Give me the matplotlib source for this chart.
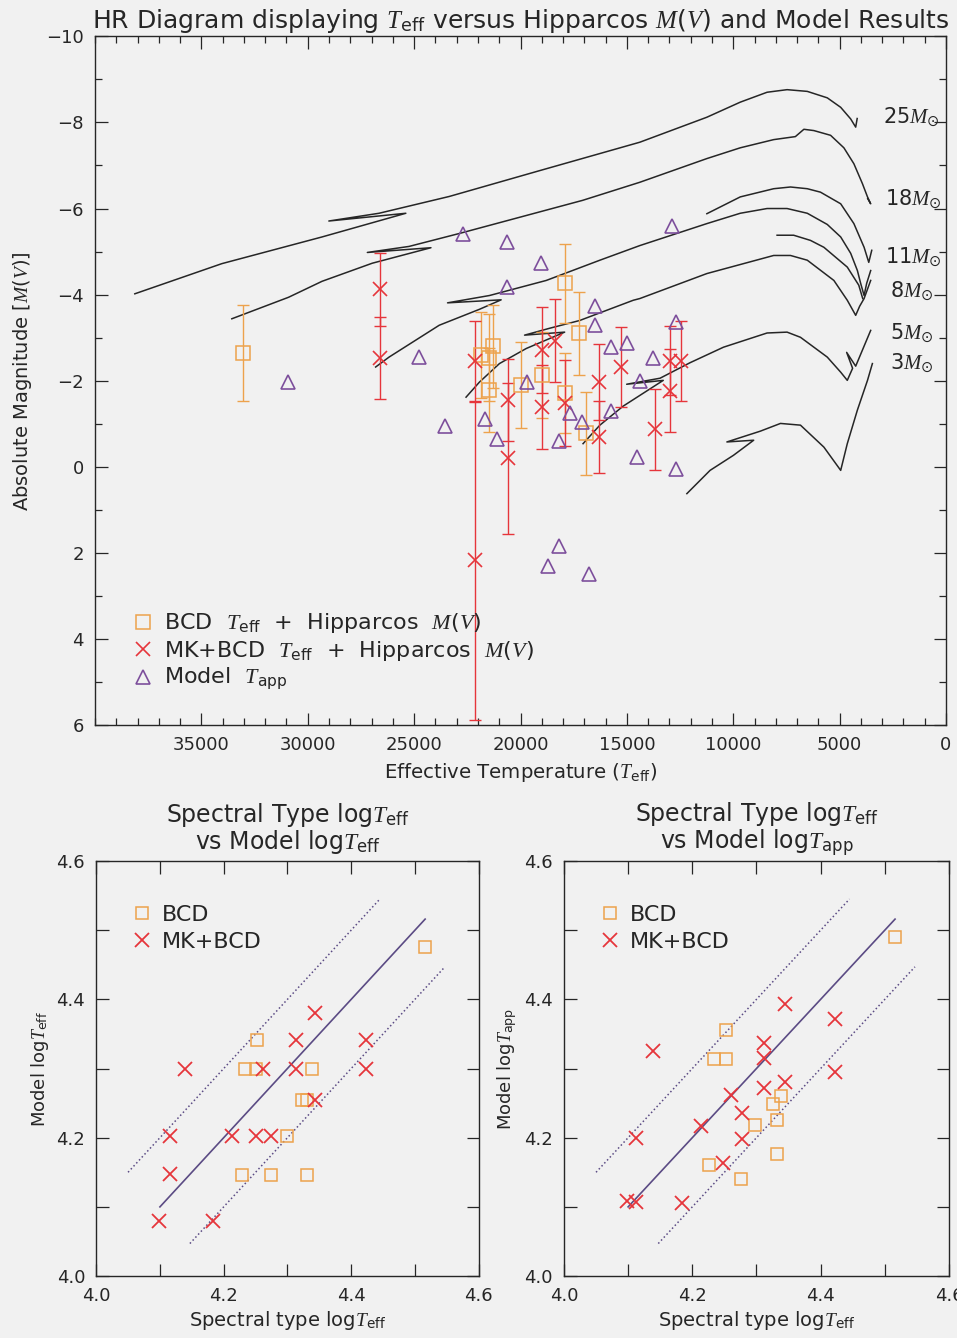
import matplotlib.pyplot as plt
from matplotlib.ticker import MultipleLocator

plt.rcParams['font.family'] = ['DejaVu Sans']
plt.rcParams['mathtext.fontset'] = 'custom'
plt.rcParams['mathtext.rm'] = 'DejaVu Sans'
plt.rcParams['mathtext.it'] = 'Liberation Serif:italic'
plt.rcParams['mathtext.bf'] = 'DejaVu Sans:bold'

INK = '#262626'
BG = '#f1f1f1'
ORANGE = '#eda24c'
RED = '#e6353b'
PURPLE = '#7d4f9c'
FIT = '#5b4b84'

# ---- HR diagram: BCD Teff + Hipparcos M(V)
bcd_T = [33050, 21880, 21480, 21290, 21480, 19970, 18980, 17890, 17260, 17890, 16930]
bcd_M = [-2.65, -2.59, -2.54, -2.80, -1.78, -1.90, -2.13, -4.26, -3.10, -1.72, -0.78]
bcd_err = [1.11, 1.00, 1.00, 0.97, 0.97, 1.00, 1.00, 0.92, 0.96, 0.93, 0.97]

# MK+BCD Teff + Hipparcos M(V)
mk_T = [26620, 26620, 22160, 22160, 20600, 20600, 18980, 18980, 18400,
        17890, 16320, 16320, 15280, 13690, 12970, 12970, 12470]
mk_M = [-4.12, -2.53, -2.45, 2.17, -1.56, -0.20, -2.71, -1.39, -2.93,
        -1.48, -1.98, -0.69, -2.31, -0.87, -2.47, -1.77, -2.46]
mk_err = [0.85, 0.95, 0.95, 3.70, 0.95, 1.75, 1.00, 0.97, 0.96,
          1.00, 0.88, 0.83, 0.93, 0.95, 0.80, 0.97, 0.94]

# model apparent temperatures
mod_T = [30940, 24760, 23540, 22720, 20640, 19060, 20640, 12890, 16520,
         16520, 15750, 14990, 12690, 13760, 14390, 19700, 21650, 21120,
         18190, 17690, 17090, 15740, 14540, 12690, 18190, 18710, 16780]
mod_M = [-1.98, -2.56, -0.95, -5.42, -5.23, -4.73, -4.17, -5.59, -3.74,
         -3.29, -2.79, -2.88, -3.36, -2.53, -2.00, -1.97, -1.11, -0.64,
         -0.60, -1.25, -1.04, -1.29, -0.22, 0.05, 1.83, 2.30, 2.48]

# evolutionary tracks
trk25_T = [38130, 34040, 29330, 25390, 29010, 26650, 23350, 19100, 14390, 11240,
           9670, 8410, 7470, 6520, 5580, 4950, 4480, 4245, 4175]
trk25_M = [-4.02, -4.72, -5.34, -5.89, -5.71, -5.89, -6.28, -6.88, -7.54, -8.12,
           -8.47, -8.70, -8.76, -8.72, -8.57, -8.35, -8.08, -7.89, -8.09]

trk18_T = [33570, 30900, 29330, 26970, 24210, 27200, 25240, 22880, 17080, 14390,
           11240, 9670, 8100, 7080, 6680, 6210, 5425, 4800, 4330, 3930, 3690, 3540, 3680]
trk18_M = [-3.44, -3.94, -4.31, -4.73, -5.09, -4.98, -5.12, -5.42, -6.19, -6.61,
           -7.16, -7.41, -7.60, -7.67, -7.84, -7.81, -7.70, -7.41, -7.04, -6.58, -6.27, -6.11, -6.23]

trk11_T = [26810, 26180, 23820, 21930, 20910, 23430, 21460, 18790, 16270, 14390,
           11240, 9670, 8410, 7470, 6520, 5580, 4950, 4480, 4165, 4010, 3850, 3730, 3540]
trk11_M = [-2.32, -2.55, -3.29, -3.66, -3.88, -3.81, -3.98, -4.33, -4.80, -5.14,
           -5.65, -5.89, -6.00, -6.00, -5.89, -5.63, -5.34, -4.96, -4.56, -4.26, -3.98, -4.26, -4.56]
loop11_T = [11240, 9670, 8100, 7310, 6520, 5900, 4950, 4330, 3850, 3630, 3490]
loop11_M = [-5.88, -6.27, -6.46, -6.50, -6.46, -6.38, -6.11, -5.65, -5.10, -4.75, -5.03]

trk8_T = [22560, 21930, 20990, 19730, 17925, 19810, 18630, 17220, 14700, 14390,
          11240, 8100, 7310, 6520, 5270, 4640, 4245, 4060, 3850, 3540]
trk8_M = [-1.62, -1.97, -2.40, -2.75, -3.13, -3.06, -3.22, -3.40, -3.87, -3.91,
          -4.49, -4.91, -4.91, -4.80, -4.33, -3.87, -3.52, -3.73, -3.91, -4.33]
loop8_T = [7940, 7160, 6370, 5740, 4640, 4100, 3915]
loop8_M = [-5.38, -5.38, -5.26, -5.10, -4.64, -4.22, -3.91]

trk5_T = [17060, 16270, 15180, 13290, 15010, 13440, 12030, 10460, 8410, 7470,
          6840, 5580, 4950, 4640, 4390, 4670, 4245, 3540]
trk5_M = [-0.54, -0.97, -1.41, -2.01, -1.92, -2.06, -2.42, -2.78, -3.11, -3.13,
          -3.01, -2.55, -2.20, -2.01, -2.29, -2.66, -2.34, -3.17]

trk3_T = [12180, 11090, 9990, 9040, 10300, 8730, 7780, 6840, 5740, 4950,
          4640, 4165, 3690, 3460]
trk3_M = [0.62, 0.08, -0.27, -0.62, -0.58, -0.83, -1.01, -0.97, -0.46, 0.08,
          -0.54, -1.32, -2.01, -2.40]

tracks = [(trk25_T, trk25_M), (trk18_T, trk18_M), (trk11_T, trk11_M),
          (loop11_T, loop11_M), (trk8_T, trk8_M), (loop8_T, loop8_M),
          (trk5_T, trk5_M), (trk3_T, trk3_M)]

# ---- logTeff comparisons (spectral type vs model)
l_bcd_x = [4.252, 4.233, 4.250, 4.338, 4.323, 4.331, 4.299, 4.228, 4.275, 4.330, 4.516]
l_bcd_y = [4.341, 4.300, 4.299, 4.300, 4.255, 4.255, 4.203, 4.146, 4.146, 4.146, 4.475]
l_mk_x = [4.344, 4.313, 4.423, 4.140, 4.262, 4.313, 4.423, 4.344, 4.116, 4.213,
          4.251, 4.275, 4.116, 4.099, 4.184]
l_mk_y = [4.380, 4.341, 4.341, 4.300, 4.299, 4.300, 4.300, 4.254, 4.203, 4.203,
          4.203, 4.203, 4.147, 4.080, 4.080]

r_bcd_x = [4.516, 4.252, 4.234, 4.252, 4.338, 4.326, 4.332, 4.298, 4.332, 4.226, 4.276]
r_bcd_y = [4.490, 4.356, 4.314, 4.314, 4.261, 4.248, 4.226, 4.218, 4.177, 4.160, 4.141]
r_mk_x = [4.344, 4.422, 4.312, 4.138, 4.312, 4.422, 4.312, 4.344, 4.261, 4.277,
          4.213, 4.277, 4.113, 4.248, 4.098, 4.113, 4.184]
r_mk_y = [4.394, 4.372, 4.337, 4.326, 4.315, 4.295, 4.272, 4.281, 4.262, 4.235,
          4.217, 4.198, 4.199, 4.164, 4.109, 4.107, 4.105]

one_to_one = [4.10, 4.516]
band_hi_x = [4.05, 4.445]
band_lo_x = [4.147, 4.547]
band_offset = 0.1

fig = plt.figure(figsize=(9.57, 13.38), dpi=100, facecolor=BG)


def style_axes(ax):
    ax.set_facecolor(BG)
    for s in ax.spines.values():
        s.set_color(INK)
        s.set_linewidth(1.0)
    ax.tick_params(which='both', direction='in', top=True, right=True,
                   colors=INK, labelsize=13, width=0.9)
    ax.tick_params(which='major', length=9, pad=8)
    ax.tick_params(which='minor', length=5)


# HR diagram
ax = fig.add_axes([0.0993, 0.4579, 0.8892, 0.5150])
style_axes(ax)

for tT, tM in tracks:
    ax.plot(tT, tM, color=INK, lw=1.1, zorder=2)

ax.errorbar(bcd_T, bcd_M, yerr=bcd_err, fmt='none', ecolor=ORANGE,
            elinewidth=1.0, capsize=4.5, capthick=1.0, zorder=3)
ax.errorbar(mk_T, mk_M, yerr=mk_err, fmt='none', ecolor=RED,
            elinewidth=1.0, capsize=4.5, capthick=1.0, zorder=3)
ax.plot(bcd_T, bcd_M, 's', ms=9.5, mfc='none', mec=ORANGE, mew=1.1, zorder=4,
        label=r'BCD  $T_{\rm eff}$  +  Hipparcos  $M(V)$')
ax.plot(mk_T, mk_M, 'x', ms=10.5, mec=RED, mew=1.2, zorder=4,
        label=r'MK+BCD  $T_{\rm eff}$  +  Hipparcos  $M(V)$')
ax.plot(mod_T, mod_M, '^', ms=10, mfc='none', mec=PURPLE, mew=1.2, zorder=4,
        label=r'Model  $T_{\rm app}$')

for lab, tx, my in [('25', 2970, -8.12), ('18', 2890, -6.22), ('11', 2890, -4.89),
                    ('8', 2650, -4.08), ('5', 2650, -3.12), ('3', 2650, -2.41)]:
    ax.text(tx, my, lab + r'$M_{\odot}$', fontsize=15, color=INK,
            ha='left', va='center', zorder=5)

ax.set_xlim(40000, 0)
ax.set_ylim(6, -10)
ax.set_xticks([35000, 30000, 25000, 20000, 15000, 10000, 5000, 0])
ax.xaxis.set_minor_locator(MultipleLocator(1000))
ax.yaxis.set_major_locator(MultipleLocator(2))
ax.yaxis.set_minor_locator(MultipleLocator(1))
ax.set_xlabel(r'Effective Temperature ($T_{\rm eff}$)', fontsize=14.2, color=INK, labelpad=5)
ax.set_ylabel(r'Absolute Magnitude [$M(V)$]', fontsize=14, color=INK, labelpad=9)
ax.set_title(r'HR Diagram displaying $T_{\rm eff}$ versus Hipparcos $M(V)$ and Model Results',
             fontsize=18, color=INK, pad=6)
leg = ax.legend(loc='lower left', bbox_to_anchor=(0.033, 0.035), frameon=False,
                fontsize=16, handlelength=1.0, handletextpad=0.45, labelspacing=0.15,
                borderaxespad=0)
for t in leg.get_texts():
    t.set_color(INK)


def compare_panel(rect, bx, by, mx, my, title, ylab):
    a = fig.add_axes(rect)
    style_axes(a)
    a.plot(one_to_one, one_to_one, color=FIT, lw=1.2, zorder=2)
    a.plot(band_hi_x, [v + band_offset for v in band_hi_x], ':', color=FIT, lw=1.1, zorder=2)
    a.plot(band_lo_x, [v - band_offset for v in band_lo_x], ':', color=FIT, lw=1.1, zorder=2)
    a.plot(bx, by, 's', ms=9, mfc='none', mec=ORANGE, mew=1.1, zorder=3, label='BCD')
    a.plot(mx, my, 'x', ms=10.5, mec=RED, mew=1.3, zorder=3, label='MK+BCD')
    a.set_xlim(4.0, 4.6)
    a.set_ylim(4.0, 4.6)
    a.xaxis.set_major_locator(MultipleLocator(0.2))
    a.yaxis.set_major_locator(MultipleLocator(0.2))
    a.xaxis.set_minor_locator(MultipleLocator(0.1))
    a.yaxis.set_minor_locator(MultipleLocator(0.1))
    a.tick_params(which='minor', length=9)
    a.set_xlabel(r'Spectral type log$T_{\rm eff}$', fontsize=14, color=INK, labelpad=3)
    a.set_ylabel(ylab, fontsize=13, color=INK, labelpad=4)
    a.set_title(title, fontsize=17, color=INK, pad=9, linespacing=0.95)
    lg = a.legend(loc='upper left', bbox_to_anchor=(0.07, 0.915), frameon=False,
                  fontsize=16, handlelength=0.9, handletextpad=0.45, labelspacing=0.3,
                  borderaxespad=0)
    for t in lg.get_texts():
        t.set_color(INK)
    return a


compare_panel([0.1005, 0.0463, 0.3997, 0.3102], l_bcd_x, l_bcd_y, l_mk_x, l_mk_y,
              'Spectral Type log$T_{\\rm eff}$\nvs Model log$T_{\\rm eff}$',
              r'Model log$T_{\rm eff}$')
compare_panel([0.5893, 0.0463, 0.4023, 0.3102], r_bcd_x, r_bcd_y, r_mk_x, r_mk_y,
              'Spectral Type log$T_{\\rm eff}$\nvs Model log$T_{\\rm app}$',
              r'Model log$T_{\rm app}$')

fig.savefig('out.png', dpi=100, facecolor=BG)
